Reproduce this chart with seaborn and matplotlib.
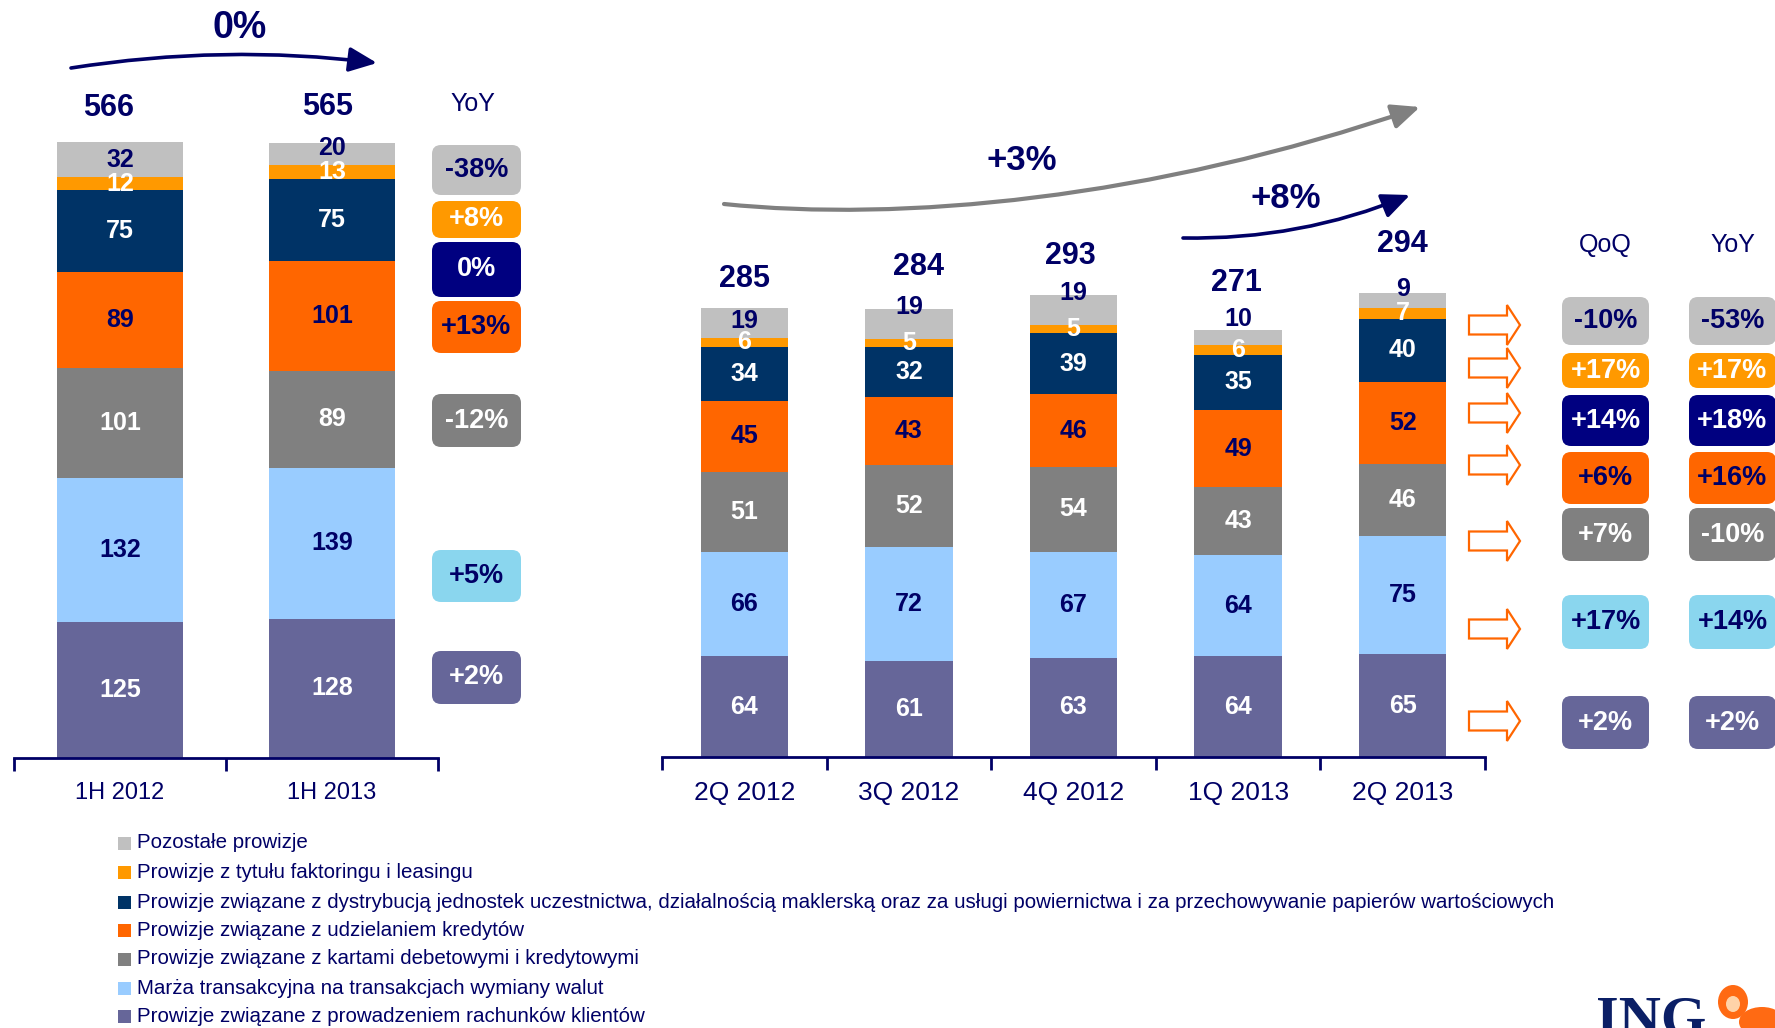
import numpy as np
import matplotlib
matplotlib.use("Agg")
import matplotlib.pyplot as plt
import seaborn as sns
from matplotlib.patches import FancyBboxPatch, FancyArrowPatch, Polygon, Rectangle, Ellipse
from matplotlib.path import Path
from matplotlib import font_manager as fm

# ---------------------------------------------------------------- data
half_periods = ["1H 2012", "1H 2013"]
quarters = ["2Q 2012", "3Q 2012", "4Q 2012", "1Q 2013", "2Q 2013"]

series_names = [
    "Pozostałe prowizje",
    "Prowizje z tytułu faktoringu i leasingu",
    "Prowizje związane z dystrybucją jednostek uczestnictwa, działalnością maklerską oraz za usługi "
    "powiernictwa i za przechowywanie papierów wartościowych",
    "Prowizje związane z udzielaniem kredytów",
    "Prowizje związane z kartami debetowymi i kredytowymi",
    "Marża transakcyjna na transakcjach wymiany walut",
    "Prowizje związane z prowadzeniem rachunków klientów",
]

# half-year values (legend order: top of stack first)
other_h = [32, 20]
factoring_h = [12, 13]
distribution_h = [75, 75]
loans_h = [89, 101]
cards_h = [101, 89]
fx_h = [132, 139]
accounts_h = [125, 128]

# quarterly values
other_q = [19, 19, 19, 10, 9]
factoring_q = [6, 5, 5, 6, 7]
distribution_q = [34, 32, 39, 35, 40]
loans_q = [45, 43, 46, 49, 52]
cards_q = [51, 52, 54, 43, 46]
fx_q = [66, 72, 67, 64, 75]
accounts_q = [64, 61, 63, 64, 65]

# dynamics per series (legend order)
yoy_half = ["-38%", "+8%", "0%", "+13%", "-12%", "+5%", "+2%"]
qoq_quarter = ["-10%", "+17%", "+14%", "+6%", "+7%", "+17%", "+2%"]
yoy_quarter = ["-53%", "+17%", "+18%", "+16%", "-10%", "+14%", "+2%"]

trend_half = "0%"
trend_yoy = "+3%"
trend_qoq = "+8%"

# ---------------------------------------------------------------- style
NAVY = "#000066"
WHITE = "white"
bar_colors = ["#C0C0C0", "#FF9900", "#003366", "#FF6600", "#808080", "#99CCFF", "#666699"]
badge_colors = ["#C0C0C0", "#FF9900", "#000080", "#FF6600", "#808080", "#8AD6EE", "#666699"]
text_colors = [NAVY, WHITE, WHITE, NAVY, WHITE, NAVY, WHITE]

sns.set_theme(style="white")
available = {f.name for f in fm.fontManager.ttflist}
SANS = "Liberation Sans" if "Liberation Sans" in available else "DejaVu Sans"
NARROW = "Liberation Sans Narrow" if "Liberation Sans Narrow" in available else SANS
SERIF = "Liberation Serif" if "Liberation Serif" in available else "DejaVu Serif"
plt.rcParams["font.family"] = [SANS, "DejaVu Sans"]

W, H = 1775, 1028
fig = plt.figure(figsize=(W / 100, H / 100), dpi=100)
fig.patch.set_facecolor("white")


def pixel_rect(x0, x1, ybottom, ytop=0):
    return [x0 / W, 1 - ybottom / H, (x1 - x0) / W, (ybottom - ytop) / H]


def stacked(ax, cats, layers, width, px_per_unit, base_px, font, fsize,
            total_offset_px, top_shift_px):
    layers = np.array(layers, dtype=float)
    stack = layers[::-1]                      # bottom of stack first
    cum = np.cumsum(stack, axis=0)
    colors = bar_colors[::-1]
    tcolors = text_colors[::-1]
    for k in reversed(range(len(stack))):
        sns.barplot(x=cats, y=cum[k], color=colors[k], width=width, saturation=1,
                    errorbar=None, edgecolor="none", linewidth=0, ax=ax)
    n = len(cats)
    for k in range(len(stack)):
        for i in range(n):
            val = stack[k][i]
            yc = cum[k][i] - val / 2
            shift = top_shift_px[i] if k == len(stack) - 1 else 0
            ax.annotate(f"{val:.0f}", (i, yc), xytext=(0, shift), textcoords="offset pixels",
                        ha="center", va="center", fontsize=fsize, fontweight="bold",
                        color=tcolors[k], family=font)
    totals = cum[-1]
    for i in range(n):
        ax.annotate(f"{totals[i]:.0f}", (i, totals[i]), xytext=total_offset_px[i],
                    textcoords="offset pixels", ha="center", va="center",
                    fontsize=22, fontweight="bold", color=NAVY, family=font)
    ax.set_xlim(-0.5, n - 0.5)
    ax.set_ylim(0, base_px / px_per_unit)
    sns.despine(ax=ax, left=True, top=True, right=True)
    ax.spines["bottom"].set_color(NAVY)
    ax.spines["bottom"].set_linewidth(2)
    ax.set_yticks([])
    ax.set_xticks(range(n))
    ax.set_xticks(np.arange(-0.5, n), minor=True)
    ax.tick_params(axis="x", which="major", length=0, pad=17, labelcolor=NAVY, labelsize=17)
    ax.tick_params(axis="x", which="minor", length=9, width=2, color=NAVY, direction="out",
                   bottom=True)
    ax.set_xticklabels(cats, family=font)
    ax.set_xlabel("")
    ax.set_ylabel("")
    ax.patch.set_alpha(0)
    ax.grid(False)


ax_h = fig.add_axes(pixel_rect(14, 438, 758))
stacked(ax_h, half_periods,
        [other_h, factoring_h, distribution_h, loans_h, cards_h, fx_h, accounts_h],
        width=0.59, px_per_unit=1.088, base_px=758, font=SANS, fsize=18,
        total_offset_px=[(-11, 34), (-4, 36)], top_shift_px=[0, 6])

ax_q = fig.add_axes(pixel_rect(662, 1485, 757))
stacked(ax_q, quarters,
        [other_q, factoring_q, distribution_q, loans_q, cards_q, fx_q, accounts_q],
        width=0.53, px_per_unit=1.577, base_px=757, font=NARROW, fsize=18,
        total_offset_px=[(0, 29), (10, 42), (-3, 39), (-2, 47), (0, 49)],
        top_shift_px=[2, 17, 17, 19, 11])
for t in ax_q.get_xticklabels():
    t.set_fontsize(19)

# ---------------------------------------------------------------- overlay (pixel space)
ov = fig.add_axes([0, 0, 1, 1])
ov.set_xlim(0, W)
ov.set_ylim(H, 0)
ov.axis("off")


def badge(x0, x1, y0, y1, text, fc, tc):
    ov.add_patch(FancyBboxPatch((x0, y0), x1 - x0, y1 - y0,
                                boxstyle="round,pad=0,rounding_size=9", fc=fc, ec="none"))
    ov.text((x0 + x1) / 2, (y0 + y1) / 2, text, ha="center", va="center", fontsize=19.5,
            fontweight="bold", color=tc)


def curved_arrow(p0, c, p1, color, lw, cubic=None):
    if cubic is None:
        path = Path([p0, c, p1], [Path.MOVETO, Path.CURVE3, Path.CURVE3])
    else:
        path = Path([p0, c, cubic, p1], [Path.MOVETO, Path.CURVE4, Path.CURVE4, Path.CURVE4])
    ov.add_patch(FancyArrowPatch(path=path, arrowstyle="-|>,head_length=1.7,head_width=0.75",
                                 mutation_scale=10, color=color, lw=lw))


# half-year block
curved_arrow((71, 68), (224, 44), (377, 63), NAVY, 2.6)
ov.text(240, 28, trend_half, ha="center", va="center", fontsize=27, fontweight="bold", color=NAVY)
ov.text(473, 104, "YoY", ha="center", va="center", fontsize=18, color=NAVY)
half_badge_rows = [(145, 195), (201, 238), (242, 297), (301, 353), (394, 447), (550, 602), (651, 704)]
for k, (y0, y1) in enumerate(half_badge_rows):
    badge(432, 521, y0, y1, yoy_half[k], badge_colors[k], text_colors[k])

# quarterly block
curved_arrow((724, 204), (900, 222), (1420, 107), "#808080", 3.0, cubic=(1150, 200))
curved_arrow((1183, 238), (1300, 240), (1410, 195), NAVY, 2.6)
ov.text(1022, 161, trend_yoy, ha="center", va="center", fontsize=25, fontweight="bold", color=NAVY)
ov.text(1286, 198, trend_qoq, ha="center", va="center", fontsize=25, fontweight="bold", color=NAVY)
ov.text(1605, 245, "QoQ", ha="center", va="center", fontsize=18, color=NAVY)
ov.text(1733, 245, "YoY", ha="center", va="center", fontsize=18, color=NAVY)

quarter_badge_rows = [(297, 345), (353, 388), (395, 446), (452, 504), (508, 561), (595, 649), (696, 749)]
pointer_rows = [325, 368, 413, 465, 541, 629, 721]
for k, (y0, y1) in enumerate(quarter_badge_rows):
    badge(1562, 1649, y0, y1, qoq_quarter[k], badge_colors[k], text_colors[k])
    badge(1689, 1776, y0, y1, yoy_quarter[k], badge_colors[k], text_colors[k])
for yc in pointer_rows:
    ov.add_patch(Polygon([(1469, yc - 9.5), (1507, yc - 9.5), (1507, yc - 20), (1520, yc),
                          (1507, yc + 20), (1507, yc + 9.5), (1469, yc + 9.5)],
                         closed=True, fc="white", ec="#FF6600", lw=1.6))

# ---------------------------------------------------------------- legend
legend_rows = [843, 872, 902, 930, 959, 988, 1016]
for k, yc in enumerate(legend_rows):
    ov.add_patch(Rectangle((118, yc - 6.5), 13, 13, fc=bar_colors[k], ec="none"))
    ov.text(137, yc, series_names[k], ha="left", va="center", fontsize=14.8, color=NAVY,
            family=[NARROW, SANS])

# ---------------------------------------------------------------- logo
ov.text(1596, 1036, "ING", ha="left", va="baseline", fontsize=42, fontweight="bold",
        color="#0B1F66", family=SERIF)
LION = "#FF6A13"
ov.add_patch(Ellipse((1733, 1002), 30, 34, fc=LION, ec="none"))
ov.add_patch(Ellipse((1762, 1022), 46, 30, fc=LION, ec="none"))
ov.add_patch(Ellipse((1733, 1004), 14, 16, fc="#FFD3A8", ec="none"))

fig.savefig("out.png", dpi=100, facecolor="white")
